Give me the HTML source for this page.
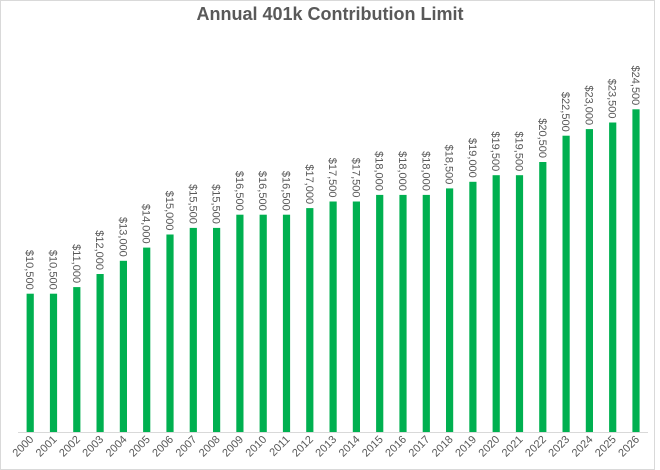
<!DOCTYPE html>
<html><head><meta charset="utf-8"><style>
html,body{margin:0;padding:0;background:#fff}
svg{display:block;font-family:"Liberation Sans",Arial,sans-serif}
.v{font-size:11px;fill:#595959}
.y{font-size:11px;fill:#595959}
</style></head><body>
<svg width="660" height="470" viewBox="0 0 660 470">
<rect x="0.5" y="0.5" width="654" height="469" fill="#fff" stroke="#d9d9d9"/>
<text x="330" y="20" text-anchor="middle" font-size="18" font-weight="bold" fill="#595959">Annual 401k Contribution Limit</text>
<line x1="18" y1="432.5" x2="648" y2="432.5" stroke="#d9d9d9"/>
<g fill="#00b050">
<rect x="26.6" y="293.7" width="7.2" height="138.3"/>
<rect x="49.9" y="293.7" width="7.2" height="138.3"/>
<rect x="73.2" y="287.1" width="7.2" height="144.9"/>
<rect x="96.5" y="274.0" width="7.2" height="158.0"/>
<rect x="119.8" y="260.8" width="7.2" height="171.2"/>
<rect x="143.1" y="247.6" width="7.2" height="184.4"/>
<rect x="166.4" y="234.5" width="7.2" height="197.5"/>
<rect x="189.7" y="227.9" width="7.2" height="204.1"/>
<rect x="213.0" y="227.9" width="7.2" height="204.1"/>
<rect x="236.3" y="214.7" width="7.2" height="217.3"/>
<rect x="259.6" y="214.7" width="7.2" height="217.3"/>
<rect x="282.9" y="214.7" width="7.2" height="217.3"/>
<rect x="306.2" y="208.1" width="7.2" height="223.9"/>
<rect x="329.5" y="201.5" width="7.2" height="230.5"/>
<rect x="352.8" y="201.5" width="7.2" height="230.5"/>
<rect x="376.1" y="194.9" width="7.2" height="237.1"/>
<rect x="399.4" y="194.9" width="7.2" height="237.1"/>
<rect x="422.7" y="194.9" width="7.2" height="237.1"/>
<rect x="446.0" y="188.4" width="7.2" height="243.6"/>
<rect x="469.3" y="181.8" width="7.2" height="250.2"/>
<rect x="492.6" y="175.2" width="7.2" height="256.8"/>
<rect x="515.9" y="175.2" width="7.2" height="256.8"/>
<rect x="539.2" y="162.0" width="7.2" height="270.0"/>
<rect x="562.5" y="135.7" width="7.2" height="296.3"/>
<rect x="585.8" y="129.1" width="7.2" height="302.9"/>
<rect x="609.1" y="122.5" width="7.2" height="309.5"/>
<rect x="632.4" y="109.3" width="7.2" height="322.7"/>
</g>
<g class="v" text-anchor="end">
<text transform="translate(26.2,289.7) rotate(90)">$10,500</text>
<text transform="translate(49.5,289.7) rotate(90)">$10,500</text>
<text transform="translate(72.8,283.1) rotate(90)">$11,000</text>
<text transform="translate(96.1,270.0) rotate(90)">$12,000</text>
<text transform="translate(119.4,256.8) rotate(90)">$13,000</text>
<text transform="translate(142.7,243.6) rotate(90)">$14,000</text>
<text transform="translate(166.0,230.5) rotate(90)">$15,000</text>
<text transform="translate(189.3,223.9) rotate(90)">$15,500</text>
<text transform="translate(212.6,223.9) rotate(90)">$15,500</text>
<text transform="translate(235.9,210.7) rotate(90)">$16,500</text>
<text transform="translate(259.2,210.7) rotate(90)">$16,500</text>
<text transform="translate(282.5,210.7) rotate(90)">$16,500</text>
<text transform="translate(305.8,204.1) rotate(90)">$17,000</text>
<text transform="translate(329.1,197.5) rotate(90)">$17,500</text>
<text transform="translate(352.4,197.5) rotate(90)">$17,500</text>
<text transform="translate(375.7,190.9) rotate(90)">$18,000</text>
<text transform="translate(399.0,190.9) rotate(90)">$18,000</text>
<text transform="translate(422.3,190.9) rotate(90)">$18,000</text>
<text transform="translate(445.6,184.4) rotate(90)">$18,500</text>
<text transform="translate(468.9,177.8) rotate(90)">$19,000</text>
<text transform="translate(492.2,171.2) rotate(90)">$19,500</text>
<text transform="translate(515.5,171.2) rotate(90)">$19,500</text>
<text transform="translate(538.8,158.0) rotate(90)">$20,500</text>
<text transform="translate(562.1,131.7) rotate(90)">$22,500</text>
<text transform="translate(585.4,125.1) rotate(90)">$23,000</text>
<text transform="translate(608.7,118.5) rotate(90)">$23,500</text>
<text transform="translate(632.0,105.3) rotate(90)">$24,500</text>
</g>
<g class="y" text-anchor="end">
<text transform="translate(34.2,440) rotate(-45)">2000</text>
<text transform="translate(57.5,440) rotate(-45)">2001</text>
<text transform="translate(80.8,440) rotate(-45)">2002</text>
<text transform="translate(104.1,440) rotate(-45)">2003</text>
<text transform="translate(127.4,440) rotate(-45)">2004</text>
<text transform="translate(150.7,440) rotate(-45)">2005</text>
<text transform="translate(174.0,440) rotate(-45)">2006</text>
<text transform="translate(197.3,440) rotate(-45)">2007</text>
<text transform="translate(220.6,440) rotate(-45)">2008</text>
<text transform="translate(243.9,440) rotate(-45)">2009</text>
<text transform="translate(267.2,440) rotate(-45)">2010</text>
<text transform="translate(290.5,440) rotate(-45)">2011</text>
<text transform="translate(313.8,440) rotate(-45)">2012</text>
<text transform="translate(337.1,440) rotate(-45)">2013</text>
<text transform="translate(360.4,440) rotate(-45)">2014</text>
<text transform="translate(383.7,440) rotate(-45)">2015</text>
<text transform="translate(407.0,440) rotate(-45)">2016</text>
<text transform="translate(430.3,440) rotate(-45)">2017</text>
<text transform="translate(453.6,440) rotate(-45)">2018</text>
<text transform="translate(476.9,440) rotate(-45)">2019</text>
<text transform="translate(500.2,440) rotate(-45)">2020</text>
<text transform="translate(523.5,440) rotate(-45)">2021</text>
<text transform="translate(546.8,440) rotate(-45)">2022</text>
<text transform="translate(570.1,440) rotate(-45)">2023</text>
<text transform="translate(593.4,440) rotate(-45)">2024</text>
<text transform="translate(616.7,440) rotate(-45)">2025</text>
<text transform="translate(640.0,440) rotate(-45)">2026</text>
</g>
</svg>
</body></html>
